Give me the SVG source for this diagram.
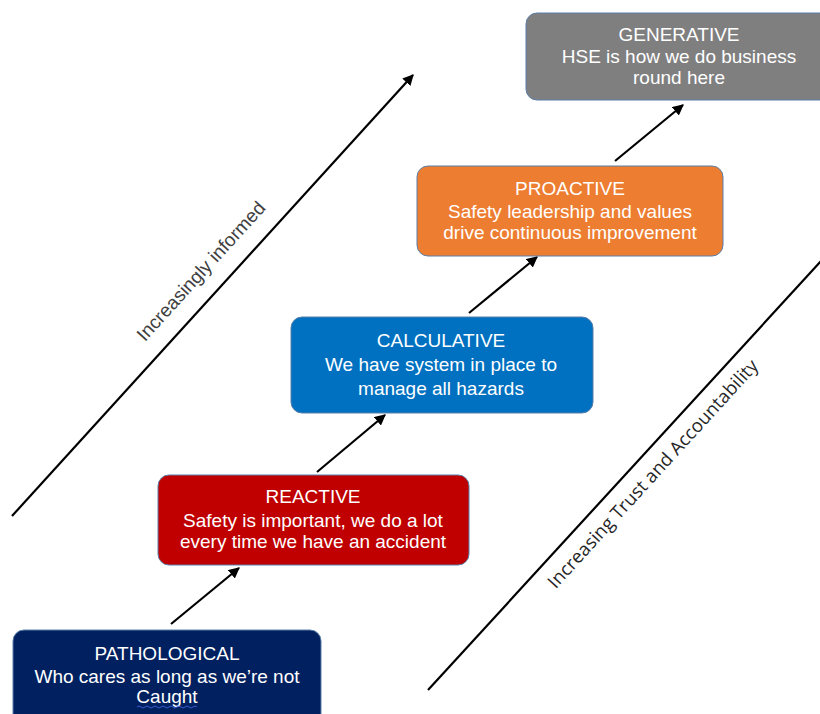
<svg xmlns="http://www.w3.org/2000/svg" width="820" height="714" viewBox="0 0 820 714">
  <defs>
    <marker id="arrow" viewBox="0 0 10 10" refX="9" refY="5" markerWidth="5" markerHeight="5" orient="auto-start-reverse" markerUnits="strokeWidth">
      <path d="M0,0 L10,5 L0,10 Z" fill="#000"/>
    </marker>
    <style>
      .box { stroke: #5a7fa8; stroke-width: 1; }
      .t { font-family: "Liberation Sans", Arial, sans-serif; font-size: 19px; fill: #ffffff; text-anchor: middle; }
      .conn { stroke: #000; stroke-width: 2.2; fill: none; marker-end: url(#arrow); }
      .axis { stroke: #000; stroke-width: 2.2; fill: none; }
      .lbl { font-family: "Liberation Sans", Arial, sans-serif; font-size: 19px; fill: #404040; text-anchor: middle; dominant-baseline: central; }
      .lbl2 { font-family: "Open Sans", "Noto Sans", sans-serif; font-size: 18.5px; fill: #262626; text-anchor: middle; dominant-baseline: central; }
    </style>
  </defs>

  <rect width="820" height="714" fill="#ffffff"/>

  <!-- axes -->
  <g id="axes">
    <line class="axis" x1="12" y1="516" x2="413" y2="75" marker-end="url(#arrow)"/>
    <text class="lbl" transform="translate(201,271) rotate(-47.7)">Increasingly informed</text>
    <line class="axis" x1="428" y1="690" x2="822" y2="260"/>
    <text class="lbl2" transform="translate(652,473) rotate(-47.6)">Increasing Trust and Accountability</text>
  </g>

  <!-- connectors between stages -->
  <g id="connectors">
    <line class="conn" x1="171" y1="624" x2="239" y2="568"/>
    <line class="conn" x1="317" y1="472" x2="385" y2="415"/>
    <line class="conn" x1="469" y1="313" x2="537" y2="257"/>
    <line class="conn" x1="615" y1="161" x2="683" y2="105"/>
  </g>

  <g id="pathological">
    <rect class="box" x="13" y="630" width="308" height="100" rx="11" fill="#002060"/>
    <text class="t" x="167" y="660">PATHOLOGICAL</text>
    <text class="t" x="167" y="683">Who cares as long as we’re not</text>
    <text class="t" x="167" y="703">Caught</text>
    <path d="M137,707 q2,-2 4,0 t4,0 t4,0 t4,0 t4,0 t4,0 t4,0 t4,0 t4,0 t4,0 t4,0 t4,0 t4,0 t4,0 t4,0" fill="none" stroke="#3a5bd0" stroke-width="1"/>
  </g>

  <g id="reactive">
    <rect class="box" x="158" y="475" width="311" height="90" rx="11" fill="#c00000"/>
    <text class="t" x="313" y="503">REACTIVE</text>
    <text class="t" x="313" y="527">Safety is important, we do a lot</text>
    <text class="t" x="313" y="548">every time we have an accident</text>
  </g>

  <g id="calculative">
    <rect class="box" x="291" y="317" width="302" height="96" rx="11" fill="#0070c0"/>
    <text class="t" x="441" y="347">CALCULATIVE</text>
    <text class="t" x="441" y="371">We have system in place to</text>
    <text class="t" x="441" y="395">manage all hazards</text>
  </g>

  <g id="proactive">
    <rect class="box" x="417" y="166" width="306" height="90" rx="11" fill="#ed7d31" stroke="#f0a070"/>
    <text class="t" x="570" y="195">PROACTIVE</text>
    <text class="t" x="570" y="218">Safety leadership and values</text>
    <text class="t" x="570" y="239">drive continuous improvement</text>
  </g>

  <g id="generative">
    <rect class="box" x="526" y="13" width="310" height="87" rx="11" fill="#7f7f7f" stroke="#9a9a9a"/>
    <text class="t" x="679" y="41">GENERATIVE</text>
    <text class="t" x="679" y="63">HSE is how we do business</text>
    <text class="t" x="679" y="84">round here</text>
  </g>
</svg>
